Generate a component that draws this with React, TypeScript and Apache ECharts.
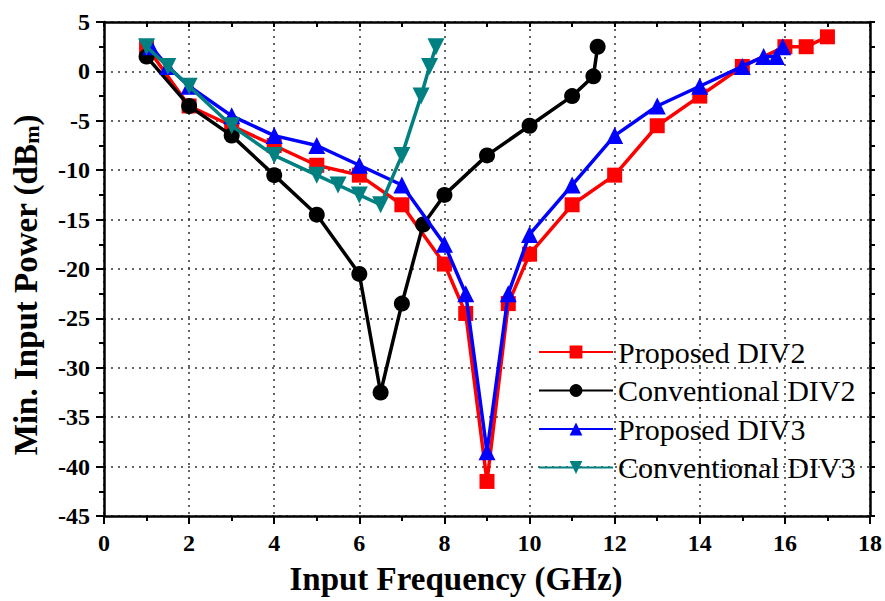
import React, { useEffect, useRef } from "react";
import * as echarts from "echarts";

const seriesNames = ["Proposed DIV2", "Conventional DIV2", "Proposed DIV3", "Conventional DIV3"];

const propDiv2X = [1, 2, 3, 4, 5, 6, 7, 8, 8.5, 9, 9.5, 10, 11, 12, 13, 14, 15, 16, 16.5, 17];
const propDiv2Y = [2.5, -3.5, -5.5, -7.5, -9.5, -10.5, -13.5, -19.5, -24.5, -41.5, -23.5, -18.5, -13.5, -10.5, -5.5, -2.5, 0.5, 2.5, 2.5, 3.5];

const convDiv2X = [1, 2, 3, 4, 5, 6, 6.5, 7, 7.5, 8, 9, 10, 11, 11.5, 11.6];
const convDiv2Y = [1.5, -3.5, -6.5, -10.5, -14.5, -20.5, -32.5, -23.5, -15.5, -12.5, -8.5, -5.5, -2.5, -0.5, 2.5];

const propDiv3X = [1.1, 1.5, 2, 3, 4, 5, 6, 7, 8, 8.5, 9, 9.5, 10, 11, 12, 13, 14, 15, 15.5, 15.8, 15.95];
const propDiv3Y = [2.5, 0.5, -1.5, -4.5, -6.5, -7.5, -9.5, -11.5, -17.5, -22.5, -38.5, -22.5, -16.5, -11.5, -6.5, -3.5, -1.5, 0.5, 1.5, 1.5, 2.5];

const convDiv3X = [1, 1.5, 2, 3, 4, 5, 5.5, 6, 6.5, 7, 7.45, 7.65, 7.8];
const convDiv3Y = [2.5, 0.5, -1.5, -5.5, -8.5, -10.5, -11.5, -12.5, -13.5, -8.5, -2.5, 0.5, 2.5];

const xTicks = { min: 0, max: 18, interval: 2 };
const yTicks = { min: -45, max: 5, interval: 5 };

const zip = (xs: number[], ys: number[]) => xs.map((x, i) => [x, ys[i]]);

export default function App() {
  const ref = useRef<HTMLDivElement>(null);
  useEffect(() => {
    if (!ref.current) return;
    const chart = echarts.init(ref.current, null, { renderer: "svg" });
    const font = "'Liberation Serif', 'Times New Roman', serif";
    const axisLine = { show: true, onZero: false, lineStyle: { color: "#000", width: 2.5 } };
    const split = { show: true, lineStyle: { color: "#333", width: 1.5, type: [2, 5] as any } };
    const mk = (name: string, data: number[][], color: string, symbol: string, size: number, z: number) => ({
      name,
      type: "line",
      data,
      symbol,
      symbolSize: size,
      z,
      itemStyle: { color },
      lineStyle: { color, width: 3.5 },
    });
    chart.setOption({
      animation: false,
      backgroundColor: "#fff",
      grid: { left: 104, right: 15, top: 22, bottom: 85, containLabel: false },
      legend: {
        left: 533,
        top: 332,
        orient: "vertical",
        itemWidth: 74,
        itemHeight: 16,
        itemGap: 8.5,
        textStyle: { fontFamily: font, fontSize: 30, color: "#000" },
        data: seriesNames,
      },
      xAxis: [
        {
          type: "value",
          position: "bottom",
          ...xTicks,
          name: "Input Frequency (GHz)",
          nameLocation: "middle",
          nameGap: 46,
          nameTextStyle: { fontFamily: font, fontSize: 33, fontWeight: "bold", color: "#000", padding: [0, 62, 0, 0] },
          axisLine,
          axisTick: { show: true, length: 8, lineStyle: { width: 2, color: "#000" } },
          minorTick: { show: true, splitNumber: 2, length: 5, lineStyle: { width: 2, color: "#000" } },
          axisLabel: { fontFamily: font, fontSize: 24, fontWeight: "bold", color: "#000", margin: 15 },
          splitLine: split,
        },
        {
          type: "value",
          position: "top",
          ...xTicks,
          axisLine,
          axisTick: { show: true, inside: true, length: 5, lineStyle: { width: 2, color: "#000" } },
          minorTick: { show: true, splitNumber: 2, length: 5, lineStyle: { width: 2, color: "#000" } },
          axisLabel: { show: false },
          splitLine: { show: false },
        },
      ],
      yAxis: [
        {
          type: "value",
          position: "left",
          ...yTicks,
          name: "Min. Input Power (dB{s|m})",
          nameLocation: "middle",
          nameGap: 62,
          nameTextStyle: {
            fontFamily: font,
            fontSize: 33,
            fontWeight: "bold",
            color: "#000",
            padding: [0, 32, 0, 0],
            rich: { s: { fontFamily: font, fontSize: 22, fontWeight: "bold", color: "#000", padding: [11, 0, 0, 0] } },
          },
          axisLine,
          axisTick: { show: true, length: 8, lineStyle: { width: 2, color: "#000" } },
          minorTick: { show: true, splitNumber: 2, length: 5, lineStyle: { width: 2, color: "#000" } },
          axisLabel: { fontFamily: font, fontSize: 24, fontWeight: "bold", color: "#000", margin: 14 },
          splitLine: split,
        },
        {
          type: "value",
          position: "right",
          ...yTicks,
          axisLine,
          axisTick: { show: true, length: 5, lineStyle: { width: 2, color: "#000" } },
          minorTick: { show: true, splitNumber: 2, length: 5, lineStyle: { width: 2, color: "#000" } },
          axisLabel: { show: false },
          splitLine: { show: false },
        },
      ],
      series: [
        mk(seriesNames[0], zip(propDiv2X, propDiv2Y), "#ff0000", "rect", 15, 2),
        mk(seriesNames[1], zip(convDiv2X, convDiv2Y), "#000000", "circle", 16, 3),
        mk(seriesNames[2], zip(propDiv3X, propDiv3Y), "#0000ff", "triangle", 17, 4),
        { ...mk(seriesNames[3], zip(convDiv3X, convDiv3Y), "#008080", "triangle", 17, 5), symbolRotate: 180 },
      ],
    });
    return () => chart.dispose();
  }, []);
  return <div ref={ref} style={{ width: 885, height: 601, position: "absolute", left: 0, top: 0 }} />;
}
